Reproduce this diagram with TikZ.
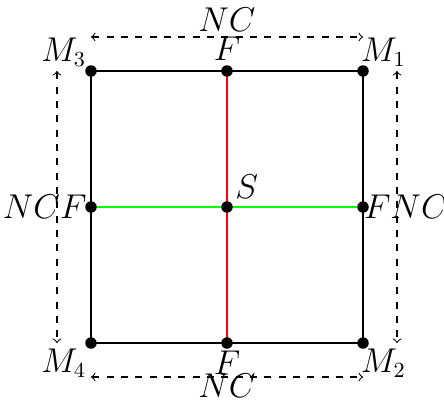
\documentclass[tikz,border=0pt]{standalone}
\usetikzlibrary{arrows}
\definecolor{lnred}{RGB}{255,0,0}
\definecolor{lngreen}{RGB}{0,255,0}
\begin{document}
\begin{tikzpicture}[
  line width=0.45pt,
  dot/.style={circle,fill=black,inner sep=0pt,minimum size=4.8pt},
  lbl/.style={font=\fontsize{13.5}{16}\selectfont,inner sep=0pt},
  dim/.style={dashed,<->,>=to,line width=0.45pt}
]
\useasboundingbox (-3.338,-2.882) rectangle (3.191,3.044);
% corners and midpoints
\coordinate (M3) at (-2,2);
\coordinate (M1) at (2,2);
\coordinate (M4) at (-2,-2);
\coordinate (M2) at (2,-2);
\coordinate (Ft) at (0,2);
\coordinate (Fb) at (0,-2);
\coordinate (L) at (-2,0);
\coordinate (R) at (2,0);
\coordinate (S) at (0,0);
% dimension ends
\coordinate (ta) at (-2,2.5);
\coordinate (tb) at (2,2.5);
\coordinate (ba) at (-2,-2.5);
\coordinate (bb) at (2,-2.5);
\coordinate (la) at (-2.5,2);
\coordinate (lb) at (-2.5,-2);
\coordinate (ra) at (2.5,2);
\coordinate (rb) at (2.5,-2);
% square
\draw (M3) -- (M1) -- (M2) -- (M4) -- cycle;
\draw[lnred] (Ft) -- (Fb);
\draw[lngreen] (L) -- (R);
% dashed dimension arrows
\draw[dim] (ta) -- (tb);
\draw[dim] (ba) -- (bb);
\draw[dim] (la) -- (lb);
\draw[dim] (ra) -- (rb);
% dots
\foreach \p in {M3,M1,M4,M2,Ft,Fb,L,R,S} \node[dot] (d\p) at (\p) {};
% labels
\node[lbl] (tM3) at (-2.40,2.27) {$M_3$};
\node[lbl] (tM1) at (2.30,2.27) {$M_1$};
\node[lbl] (tM4) at (-2.40,-2.30) {$M_4$};
\node[lbl] (tM2) at (2.30,-2.30) {$M_2$};
\node[lbl] (tFt) at (0,2.32) {$F$};
\node[lbl] (tFb) at (0,-2.29) {$F$};
\node[lbl] (tNCt) at (0,2.76) {$NC$};
\node[lbl] (tNCb) at (0,-2.63) {$NC$};
\node[lbl] (tNCF) at (-2.68,0) {$NCF$};
\node[lbl] (tFNC) at (2.63,0) {$FNC$};
\node[lbl] (tS) at (0.29,0.30) {$S$};
\end{tikzpicture}
\end{document}
